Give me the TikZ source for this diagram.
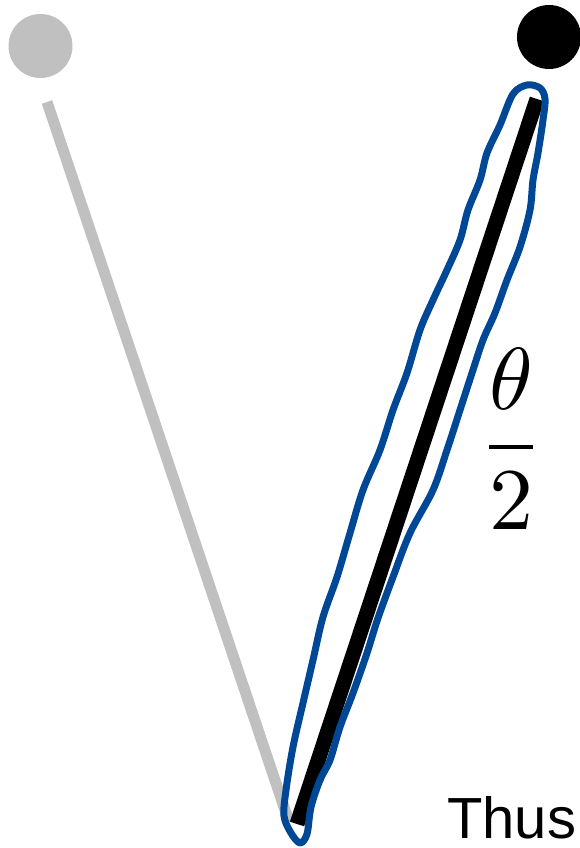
\documentclass[tikz,border=0pt]{standalone}
\usepackage{amsmath}
\usepackage{fontspec}
\newfontfamily\labelfont{Liberation Sans}
\usepackage{tikz}
\usetikzlibrary{positioning}
\definecolor{rodgray}{RGB}{192,192,192}
\definecolor{loopblue}{RGB}{0,72,150}

\begin{document}
\begin{tikzpicture}[
    x=1pt,y=-1pt,
    bob/.style={circle,minimum size=64pt,inner sep=0pt,draw=none},
    rod/.style={line width=11pt,line cap=butt},
    loop/.style={draw=loopblue,line width=7pt,line cap=round,line join=round}
  ]
    \useasboundingbox (0,0) rectangle (580,848);

    % bobs
    \node[bob,fill=rodgray] (oldbob) at (40.5,46) {};
    \node[bob,fill=black] (newbob) at (549,37) {};

    % rods
    \coordinate (oldtop) at (47,102);
    \coordinate (newtop) at (537,99);
    \coordinate (pivotA) at (289,822);
    \coordinate (pivotB) at (297,824);
    \draw[rod,rodgray] (oldtop) -- (pivotA);
    \draw[rod,black,line width=15pt] (newtop) -- (pivotB);

    % hand drawn loop round the new rod
    \draw[loop] plot[smooth cycle,tension=0.55] coordinates {
      (527,85) (540,88) (545,99) (543,120) (538,153) (533,180) (530,210)
      (520,247) (507,280) (495,313) (483,340) (472,373) (460,410) (447,450)
      (433,490) (410,533) (393,577) (378,618) (367,653) (353,693) (340,727)
      (330,760) (320,780) (311,807) (307,834) (300,843) (291,833) (284,816)
      (286,790) (293,747) (303,703) (313,660) (323,617) (337,577) (350,533)
      (363,490) (380,450) (393,410) (407,373) (420,330) (433,300) (447,270)
      (460,240) (468,210) (480,180) (487,153) (500,125) (513,94)};

    % labels
    \node[inner sep=0pt] (half) at (511,439) {\scalebox{8.8}{$\dfrac{\theta}{2}$}};
    \node[anchor=base west,inner sep=0pt,font=\labelfont\fontsize{58}{70}\selectfont] (thus) at (447,838) {Thus};
\end{tikzpicture}
\end{document}
